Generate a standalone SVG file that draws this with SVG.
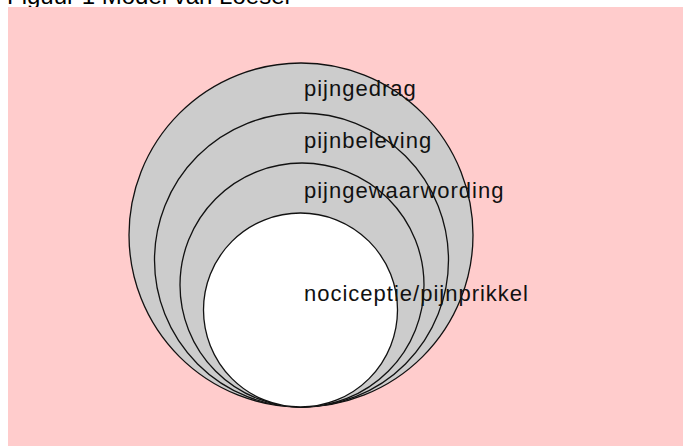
<svg xmlns="http://www.w3.org/2000/svg" width="683" height="446" viewBox="0 0 683 446">
<style>
.ring{fill:#cccccc;stroke:#111;stroke-width:1.3}
.core{fill:#ffffff;stroke:#111;stroke-width:1.3}
.lbl{font-family:"Liberation Sans",Arial,sans-serif;font-size:22px;letter-spacing:1px;fill:#111}
.title{font-family:"Liberation Sans",Arial,sans-serif;font-size:24px;fill:#000}
</style>
<rect x="0" y="0" width="683" height="446" fill="#ffffff"/>
<text class="title" x="7" y="4">Figuur 1  Model van Loeser</text>
<rect x="8" y="7" width="675" height="439" fill="#ffcccc"/>
<g id="connectors"></g>
<g id="pijngedrag">
<circle class="ring" cx="301" cy="235" r="172"/>
<text class="lbl" x="304" y="96">pijngedrag</text>
</g>
<g id="pijnbeleving">
<circle class="ring" cx="301.5" cy="260" r="147"/>
<text class="lbl" x="304" y="148">pijnbeleving</text>
</g>
<g id="pijngewaarwording">
<circle class="ring" cx="302" cy="285" r="122"/>
<text class="lbl" x="304" y="198">pijngewaarwording</text>
</g>
<g id="nociceptie">
<circle class="core" cx="300.5" cy="310" r="97"/>
<text class="lbl" x="304" y="301">nociceptie/pijnprikkel</text>
</g>
</svg>
